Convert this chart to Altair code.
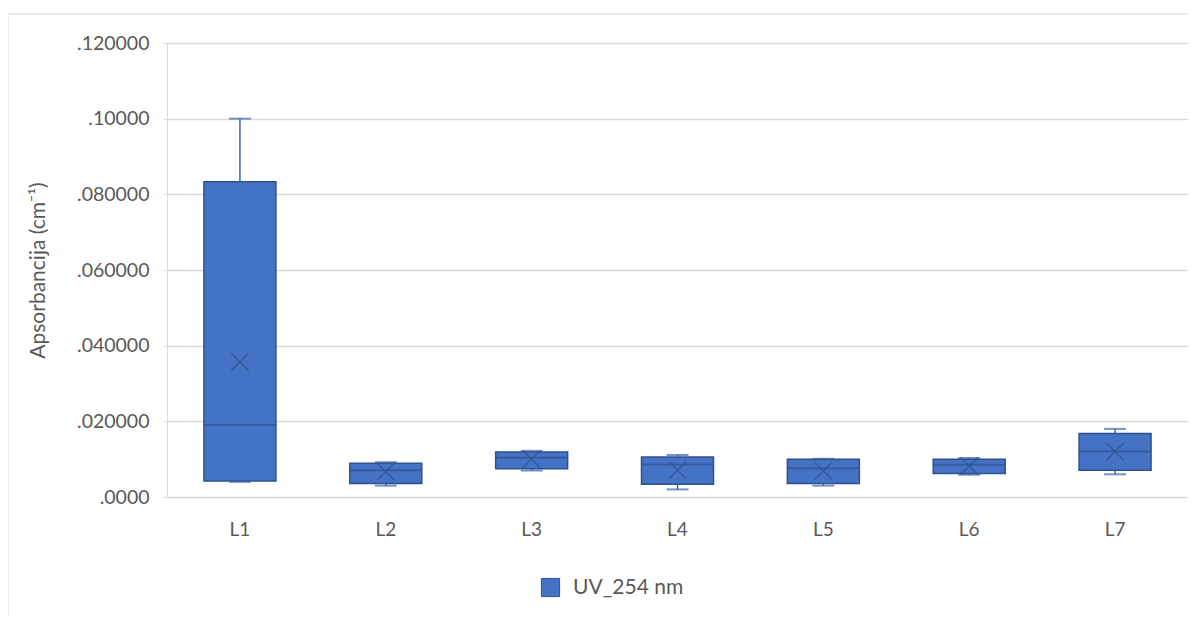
import altair as alt
import pandas as pd

categories = ["L1", "L2", "L3", "L4", "L5", "L6", "L7"]
min_vals = [0.0040, 0.0030, 0.0070, 0.0020, 0.0030, 0.0059, 0.0060]
q1_vals = [0.0042, 0.0036, 0.0075, 0.0034, 0.0036, 0.0062, 0.0071]
median_vals = [0.0190, 0.0071, 0.0104, 0.0086, 0.0076, 0.0085, 0.0120]
q3_vals = [0.0833, 0.0089, 0.0119, 0.0106, 0.0100, 0.0100, 0.0168]
max_vals = [0.1000, 0.0092, 0.0122, 0.0111, 0.0101, 0.0103, 0.0180]
mean_vals = [0.0357, 0.0067, 0.0100, 0.0071, 0.0069, 0.0082, 0.0120]
series_name = "UV_254 nm"
y_tick_values = [0, 0.02, 0.04, 0.06, 0.08, 0.10, 0.12]
y_tick_labels = [".0000", ".020000", ".040000", ".060000", ".080000", ".10000", ".120000"]

df = pd.DataFrame({
    "cat": categories, "min": min_vals, "q1": q1_vals, "median": median_vals,
    "q3": q3_vals, "max": max_vals, "mean": mean_vals, "series": series_name,
})

FILL = "#4472C4"
EDGE = "#2F528F"
WHISK = "#3B65B5"
GRAY = "#595959"
FONT = "Lato"
W, H = 1021, 454
BOX_W = 72
CAP_W = 22

label_arr = "[" + ",".join("'" + s + "'" for s in y_tick_labels) + "]"
label_expr = label_arr + "[round(datum.value / 0.02)]"

x_enc = alt.X("cat:N", sort=categories,
              scale=alt.Scale(paddingInner=0, paddingOuter=0),
              axis=alt.Axis(title=None, labelAngle=0, ticks=False, domainColor="#D9D9D9",
                            labelFont=FONT, labelFontSize=19, labelColor=GRAY,
                            labelPadding=23, grid=False))
y_scale = alt.Scale(domain=[0, 0.12], nice=False)

base = alt.Chart(df)

frame = alt.Chart(pd.DataFrame({"k": [0]})).mark_rect(
    fill=None, stroke="#D9D9D9", strokeWidth=1
).encode(x=alt.value(-159), x2=alt.value(W + 50), y=alt.value(-29), y2=alt.value(H + 200))

axis_layer = base.mark_point(opacity=0).encode(
    x=x_enc,
    y=alt.Y("mean:Q", scale=y_scale,
            axis=alt.Axis(title="Apsorbancija (cm⁻¹)", values=y_tick_values, labelExpr=label_expr,
                          labelFont=FONT, labelFontSize=19.5, labelColor=GRAY, labelPadding=14,
                          tickSize=4, tickColor="#D9D9D9", domainColor="#D9D9D9",
                          gridColor="#D9D9D9", gridWidth=1.3,
                          titleFont=FONT, titleFontSize=21, titleColor=GRAY,
                          titleFontWeight="normal", titlePadding=28)),
)

whisk_hi = base.mark_rule(color=WHISK, strokeWidth=1.5).encode(
    x=alt.X("cat:N", sort=categories), y=alt.Y("q3:Q", scale=y_scale), y2="max:Q")
whisk_lo = base.mark_rule(color=WHISK, strokeWidth=1.5).encode(
    x=alt.X("cat:N", sort=categories), y=alt.Y("min:Q", scale=y_scale), y2="q1:Q")
cap_hi = base.mark_tick(color=WHISK, size=CAP_W, thickness=2, orient="horizontal").encode(
    x=alt.X("cat:N", sort=categories), y=alt.Y("max:Q", scale=y_scale))
cap_lo = base.mark_tick(color=WHISK, size=CAP_W, thickness=2, orient="horizontal").encode(
    x=alt.X("cat:N", sort=categories), y=alt.Y("min:Q", scale=y_scale))

box = base.mark_bar(width=BOX_W, stroke=EDGE, strokeWidth=1.5).encode(
    x=alt.X("cat:N", sort=categories),
    y=alt.Y("q1:Q", scale=y_scale), y2="q3:Q",
    color=alt.Color("series:N", scale=alt.Scale(range=[FILL]),
                    legend=alt.Legend(title=None, orient="none", legendX=373, legendY=534,
                                      symbolType="square", symbolSize=330,
                                      symbolStrokeColor=EDGE, symbolStrokeWidth=1,
                                      labelFont=FONT, labelFontSize=21, labelColor=GRAY,
                                      labelOffset=12)),
)

med = base.mark_tick(color=EDGE, size=BOX_W, thickness=2, orient="horizontal").encode(
    x=alt.X("cat:N", sort=categories), y=alt.Y("median:Q", scale=y_scale))

mean_pt = base.mark_point(shape="M-1,-1L1,1M-1,1L1,-1", size=300, filled=False,
                          color=EDGE, strokeWidth=1.5).encode(
    x=alt.X("cat:N", sort=categories), y=alt.Y("mean:Q", scale=y_scale))

chart = alt.layer(frame, axis_layer, whisk_hi, whisk_lo, cap_hi, cap_lo, box, med, mean_pt).properties(
    width=W, height=H,
    autosize=alt.AutoSizeParams(type="none"),
    padding={"left": 159, "top": 35, "right": 0, "bottom": 120},
).configure_view(stroke=None).configure(background="white")

chart.save("out.html", embed_options={"renderer": "svg", "actions": False})
